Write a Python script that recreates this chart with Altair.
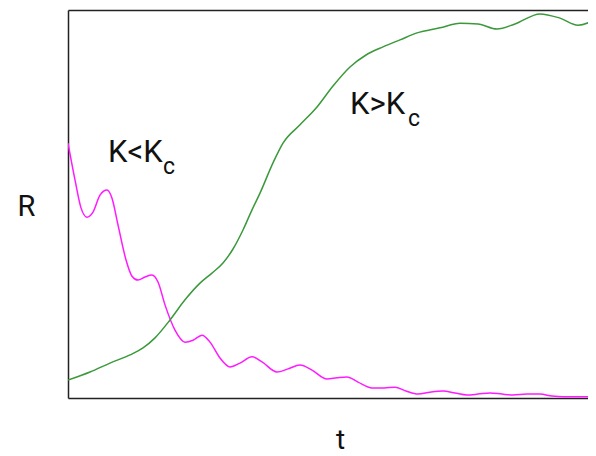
import altair as alt
import pandas as pd

# K < Kc series (magenta)
t_low = [0, 7, 13, 19, 25, 32, 39, 44, 50, 58, 64, 70, 77, 84, 90, 97, 107, 117, 125, 134,
         142, 152, 162, 172, 184, 194, 209, 220, 232, 244, 259, 269, 279, 290, 304, 316, 327,
         338, 350, 362, 375, 387, 399, 410, 422, 434, 445, 459, 472, 484, 495, 512, 528]
r_low = [0.657, 0.562, 0.490, 0.466, 0.479, 0.523, 0.536, 0.515, 0.446, 0.356, 0.314, 0.304,
         0.312, 0.317, 0.299, 0.240, 0.175, 0.144, 0.149, 0.162, 0.144, 0.103, 0.080, 0.090,
         0.106, 0.093, 0.067, 0.075, 0.085, 0.072, 0.049, 0.052, 0.054, 0.041, 0.026, 0.026,
         0.028, 0.018, 0.010, 0.015, 0.018, 0.013, 0.008, 0.010, 0.013, 0.010, 0.008, 0.010,
         0.010, 0.005, 0.003, 0.003, 0.003]

# K > Kc series (green)
t_high = [0, 22, 42, 62, 75, 87, 102, 117, 132, 144, 155, 165, 175, 184, 192, 205, 215, 232,
          249, 265, 282, 298, 315, 332, 349, 372, 392, 410, 429, 447, 472, 492, 510, 522, 528]
r_high = [0.046, 0.067, 0.090, 0.111, 0.129, 0.155, 0.201, 0.253, 0.296, 0.322, 0.348, 0.384,
          0.433, 0.485, 0.528, 0.606, 0.657, 0.704, 0.750, 0.804, 0.853, 0.884, 0.905, 0.923,
          0.941, 0.954, 0.966, 0.964, 0.951, 0.964, 0.990, 0.979, 0.961, 0.969, 0.977]

label_text = ["K<K", "K>K"]
label_t = [40, 282]
label_r = [0.608, 0.732]
sub_text = ["c", "c"]
sub_t = [95, 340]
sub_r = [0.577, 0.701]

low = pd.DataFrame({"t": t_low, "R": r_low})
high = pd.DataFrame({"t": t_high, "R": r_high})
labels = pd.DataFrame({"t": label_t, "R": label_r, "text": label_text})
subs = pd.DataFrame({"t": sub_t, "R": sub_r, "text": sub_text})

xscale = alt.Scale(domain=[0, 520], nice=False, zero=False)
yscale = alt.Scale(domain=[0, 1], nice=False, zero=False)

frame = dict(domain=True, domainColor="#222222", domainWidth=1.5, ticks=False,
             labels=False, grid=False)

y_axis = alt.Axis(title="R", titleAngle=0, titleX=-42, titleY=196, titleAlign="center",
                  titleBaseline="middle", titleFont="Roboto", titleFontSize=29,
                  titleFontWeight="normal", titleColor="#111111", **frame)

green = alt.Chart(high).mark_line(color="#3a993a", strokeWidth=1.5, interpolate="monotone",
                                  clip=True).encode(
    x=alt.X("t:Q", scale=xscale,
            axis=alt.Axis(orient="bottom", title="t", titleX=272, titleY=50, titleAlign="center",
                          titleBaseline="alphabetic", titleFont="Roboto", titleFontSize=28,
                          titleFontWeight="normal", titleColor="#111111", **frame)),
    y=alt.Y("R:Q", scale=yscale, axis=y_axis),
)

magenta = alt.Chart(low).mark_line(color="#ff1aff", strokeWidth=1.5, interpolate="monotone",
                                   clip=True).encode(
    x=alt.X("t:Q", scale=xscale, axis=alt.Axis(orient="top", title=None, **frame)),
    y=alt.Y("R:Q", scale=yscale, axis=y_axis),
)

text_main = alt.Chart(labels).mark_text(font="Roboto", fontSize=31, align="left",
                                        baseline="alphabetic", color="#111111").encode(
    x=alt.X("t:Q", scale=xscale, axis=None),
    y=alt.Y("R:Q", scale=yscale, axis=y_axis),
    text="text:N",
)

text_sub = alt.Chart(subs).mark_text(font="Roboto", fontSize=23, align="left",
                                     baseline="alphabetic", color="#111111").encode(
    x=alt.X("t:Q", scale=xscale, axis=None),
    y=alt.Y("R:Q", scale=yscale, axis=y_axis),
    text="text:N",
)

chart = alt.layer(magenta, green, text_main, text_sub).resolve_axis(x="independent").properties(
    width=520, height=388,
    padding={"left": 60, "top": 2, "right": 0, "bottom": 58},
    autosize=alt.AutoSizeParams(type="none"),
).configure_view(stroke=None)

chart.save("out.html", embed_options={"renderer": "svg", "actions": False})
